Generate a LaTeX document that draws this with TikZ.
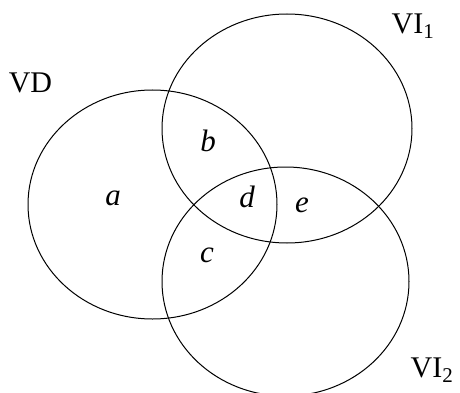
\documentclass[tikz,border=0pt]{standalone}
\usepackage{fontspec}
\setmainfont{Liberation Serif}
\begin{document}
\begin{tikzpicture}[x=1pt, y=-1pt, line width=1pt,
  setlabel/.style={font=\fontsize{30}{32}\selectfont, inner sep=0pt},
  region/.style={font=\fontsize{31}{32}\selectfont\itshape, inner sep=0pt}]
  \useasboundingbox (0,0) rectangle (460,393);

  % the three sets
  \draw (152.5,204.5) ellipse [x radius=124.5, y radius=114.5];
  \draw (287,128.5) ellipse [x radius=125, y radius=114.5];
  \draw (285.5,281.5) ellipse [x radius=123.5, y radius=114.5];

  \node[setlabel] (vd) at (30.5,82.5) {VD};
  \node[setlabel] (vione) at (413,26) {VI\textsubscript{1}};
  \node[setlabel] (vitwo) at (432,370) {VI\textsubscript{2}};

  \node[region] (a) at (113,198) {a};
  \node[region] (b) at (208,141) {b};
  \node[region] (c) at (207,255) {c};
  \node[region] (d) at (247,197) {d};
  \node[region] (e) at (302,205) {e};
\end{tikzpicture}
\end{document}
